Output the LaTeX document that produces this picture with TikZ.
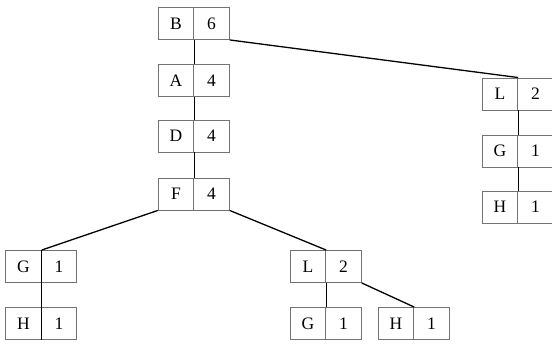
\documentclass[tikz,border=0pt]{standalone}
\usepackage{fontspec}
\setmainfont{Liberation Serif}
\begin{document}
\begin{tikzpicture}[x=1pt,y=-1pt,
  cell/.style={draw=black!55, line width=0.9pt, minimum width=35.5pt, minimum height=32pt, inner sep=0pt, font=\fontsize{17.5}{17.5}\selectfont},
  edge/.style={line width=1.3pt}]
\useasboundingbox (0,0) rectangle (552,343);
\node[cell] (k0) at (176,23.5){B};
\node[cell] (c0) at (211.5,23.5){6};
\node[cell] (k1) at (176,80.5){A};
\node[cell] (c1) at (211.5,80.5){4};
\node[cell] (k2) at (176,136){D};
\node[cell] (c2) at (211.5,136){4};
\node[cell] (k3) at (176,194){F};
\node[cell] (c3) at (211.5,194){4};
\draw[edge](k0.south east) -- (k1.north east);
\draw[edge](k1.south east) -- (k2.north east);
\draw[edge](k2.south east) -- (k3.north east);
\node[cell] (k4) at (23.5,266.5){G};
\node[cell] (c4) at (59,266.5){1};
\node[cell] (k5) at (23.5,323.5){H};
\node[cell] (c5) at (59,323.5){1};
\draw[edge](k3.south west) -- (k4.north east);
\draw[edge](k4.north east) -- (k5.south east);
\node[cell] (k6) at (308,266.5){L};
\node[cell] (c6) at (343.5,266.5){2};
\node[cell] (k7) at (308,323.5){G};
\node[cell] (c7) at (343.5,323.5){1};
\node[cell] (k8) at (396,323.5){H};
\node[cell] (c8) at (431.5,323.5){1};
\draw[edge](c3.south east) -- (k6.north east);
\draw[edge](k6.south east) -- (k7.north east);
\draw[edge](c6.south east) -- (k8.north east);
\node[cell] (k9) at (500,94){L};
\node[cell] (c9) at (535.5,94){2};
\node[cell] (k10) at (500,151){G};
\node[cell] (c10) at (535.5,151){1};
\node[cell] (k11) at (500,207){H};
\node[cell] (c11) at (535.5,207){1};
\draw[edge](c0.south east) -- (k9.north east);
\draw[edge](k9.south east) -- (k10.north east);
\draw[edge](k10.south east) -- (k11.north east);
\end{tikzpicture}
\end{document}
